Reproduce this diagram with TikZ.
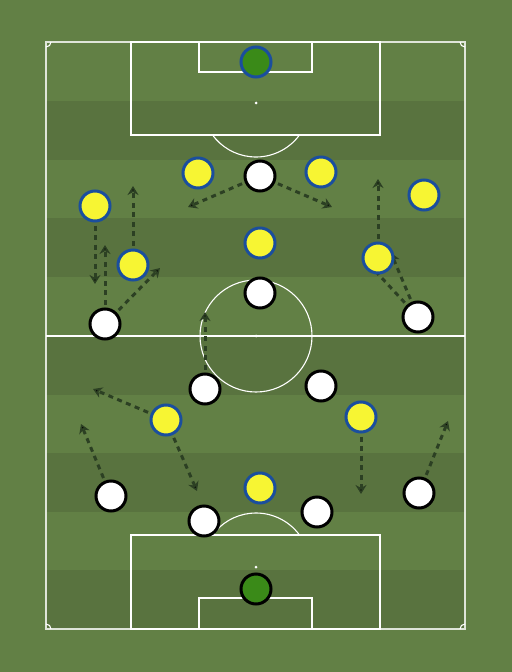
\documentclass[tikz,border=0pt]{standalone}
\usepackage{tikz}
\usetikzlibrary{arrows.meta}

\definecolor{grassLight}{HTML}{628045}
\definecolor{grassDark}{HTML}{59733F}
\definecolor{shirtYellow}{HTML}{F7F533}
\definecolor{rimBlue}{HTML}{1A4E9E}
\definecolor{keeperGreen}{HTML}{3A8A18}
\definecolor{runGreen}{HTML}{2C4023}

\pgfdeclarelayer{pitch}
\pgfdeclarelayer{runs}
\pgfsetlayers{pitch,runs,main}

\tikzset{
	yel/.style={circle,draw=rimBlue,fill=shirtYellow,line width=3bp,minimum size=30bp,inner sep=0pt},
	wht/.style={circle,draw=black,fill=white,line width=3bp,minimum size=30bp,inner sep=0pt},
	line/.style={draw=white,line width=1.1bp},
	run/.style={draw=runGreen,line width=3bp,dash pattern=on 5bp off 4.5bp,shorten <=3bp,-{Stealth[length=9bp,width=11bp]}}
}

\begin{document}
\begin{tikzpicture}[x=1bp,y=-1bp]
	\begin{pgfonlayer}{pitch}
	\fill[grassLight] (0,0) rectangle (512,672);
	\foreach \y in {101,218,336,453,570}
		\fill[grassDark] (46,\y) rectangle (465,\y+59);
	\draw[line,draw opacity=0.8] (46,42) rectangle (465,629);
	\draw[line] (46,336) -- (465,336);
	\draw[line] (256,336) circle (56);
	\fill[white] (256,336) circle (1.5);
	% top end
	\draw[line] (131,42) rectangle (380,135);
	\draw[line] (199,42) rectangle (312,72);
	\fill[white] (256,103) circle (1.5);
	\draw[line] (256,103) ++(36.3:54) arc[start angle=36.3,end angle=143.7,radius=54];
	% bottom end
	\draw[line] (131,535) rectangle (380,629);
	\draw[line] (199,598) rectangle (312,629);
	\fill[white] (256,567) circle (1.5);
	\draw[line] (256,567) ++(-36.3:54) arc[start angle=-36.3,end angle=-143.7,radius=54];
	% corners
	\draw[line] (51,42) arc[start angle=0,end angle=90,radius=5];
	\draw[line] (460,42) arc[start angle=180,end angle=90,radius=5];
	\draw[line] (51,629) arc[start angle=0,end angle=-90,radius=5];
	\draw[line] (460,629) arc[start angle=180,end angle=270,radius=5];
	\end{pgfonlayer}

	% yellow side
	\node[yel,fill=keeperGreen] (yk) at (256,62) {};
	\node[yel] (y1) at (198,173) {};
	\node[yel] (y2) at (321,172) {};
	\node[yel] (y3) at (95,206) {};
	\node[yel] (y4) at (424,195) {};
	\node[yel] (y5) at (260,243) {};
	\node[yel] (y6) at (133,265) {};
	\node[yel] (y7) at (378,258) {};
	\node[yel] (y8) at (166,420) {};
	\node[yel] (y9) at (361,417) {};
	\node[yel] (y10) at (260,488) {};

	% white side
	\node[wht,fill=keeperGreen] (wk) at (256,589) {};
	\node[wht] (w1) at (260,176) {};
	\node[wht] (w2) at (260,293) {};
	\node[wht] (w3) at (105,324) {};
	\node[wht] (w4) at (418,317) {};
	\node[wht] (w5) at (205,389) {};
	\node[wht] (w6) at (321,386) {};
	\node[wht] (w7) at (111,496) {};
	\node[wht] (w8) at (204,521) {};
	\node[wht] (w9) at (317,512) {};
	\node[wht] (w10) at (419,493) {};

	% runs
	\coordinate (r1) at (188,207);
	\coordinate (r2) at (332,207);
	\coordinate (r3) at (133,186);
	\coordinate (r4) at (95,284);
	\coordinate (r5) at (105,245);
	\coordinate (r6) at (160,268);
	\coordinate (r7) at (205,312);
	\coordinate (r8) at (378,179);
	\coordinate (r9) at (367,262);
	\coordinate (r10) at (391,253);
	\coordinate (r11) at (93,389);
	\coordinate (r12) at (197,491);
	\coordinate (r13) at (81,424);
	\coordinate (r14) at (361,494);
	\coordinate (r15) at (448,421);

	\begin{pgfonlayer}{runs}
	\path [run] (w1) edge (r1);
	\path [run] (w1) edge (r2);
	\path [run] (y6) edge (r3);
	\path [run] (y3) edge (r4);
	\path [run] (w3) edge (r5);
	\path [run] (w3) edge (r6);
	\path [run] (w5) edge (r7);
	\path [run] (y7) edge (r8);
	\path [run] (w4) edge (r9);
	\path [run] (w4) edge (r10);
	\path [run] (y8) edge (r11);
	\path [run] (y8) edge (r12);
	\path [run] (w7) edge (r13);
	\path [run] (y9) edge (r14);
	\path [run] (w10) edge (r15);
	\end{pgfonlayer}
\end{tikzpicture}
\end{document}
